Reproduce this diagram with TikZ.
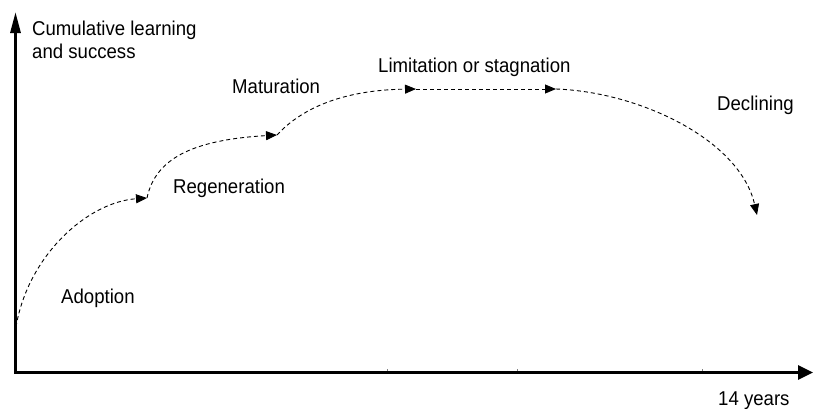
\documentclass[tikz,border=0pt]{standalone}
\usepackage{fontspec}
\setmainfont{Liberation Sans}[FakeStretch=0.93]
\usetikzlibrary{arrows.meta}

\begin{document}
\begin{tikzpicture}[
    x=1pt, y=-1pt,
    lbl/.style={font=\fontsize{20}{23}\selectfont, inner sep=0pt},
    axis/.style={line width=3pt, line join=miter},
    phase/.style={-{Triangle[length=11pt,width=9pt]}, line width=0.9pt, dash pattern=on 4pt off 3pt},
    tick/.style={line width=0.6pt, gray}
]
\useasboundingbox (0,0) rectangle (817,408);

% axes
\coordinate (ytip) at (15.5, 12);
\coordinate (orig) at (15.5, 372.5);
\coordinate (xtip) at (813, 372.5);
\draw[axis, {Triangle[length=21pt,width=10pt]}-{Triangle[length=15pt,width=14pt]}] (ytip) -- (orig) -- (xtip);

% small ticks on the time axis
\foreach \tx in {387, 517, 702}
    \draw[tick] (\tx, 371) -- (\tx, 369);

% axis labels
\node[lbl, anchor=north west, align=left] (ylabel) at (32, 20.7) {Cumulative learning\\and success};
\node[lbl, anchor=base west] (xlabel) at (718, 405) {14 years};

% points where the phases meet
\coordinate (p0) at (16, 327);
\coordinate (p1) at (147, 198);
\coordinate (p2) at (277, 135);
\coordinate (p3) at (416, 89);
\coordinate (p4) at (556, 89);
\coordinate (p5) at (757, 215);

% phase curves
\draw[phase] (p0) .. controls (28, 255) and (88, 202) .. (p1);
\draw[phase] (p1) .. controls (155, 160) and (190, 140) .. (p2);
\draw[phase] (p2) .. controls (300, 110) and (340, 90) .. (p3);
\draw[phase] (p3) -- (p4);
\draw[phase] (p4) .. controls (640, 92) and (740, 140) .. (p5);

% phase labels
\node[lbl, anchor=base west] (adoption) at (61, 303) {Adoption};
\node[lbl, anchor=base west] (regen) at (173, 193) {Regeneration};
\node[lbl, anchor=base west] (matur) at (232, 93) {Maturation};
\node[lbl, anchor=base west] (limit) at (378, 72) {Limitation or stagnation};
\node[lbl, anchor=base west] (decline) at (717, 110) {Declining};

\end{tikzpicture}
\end{document}
